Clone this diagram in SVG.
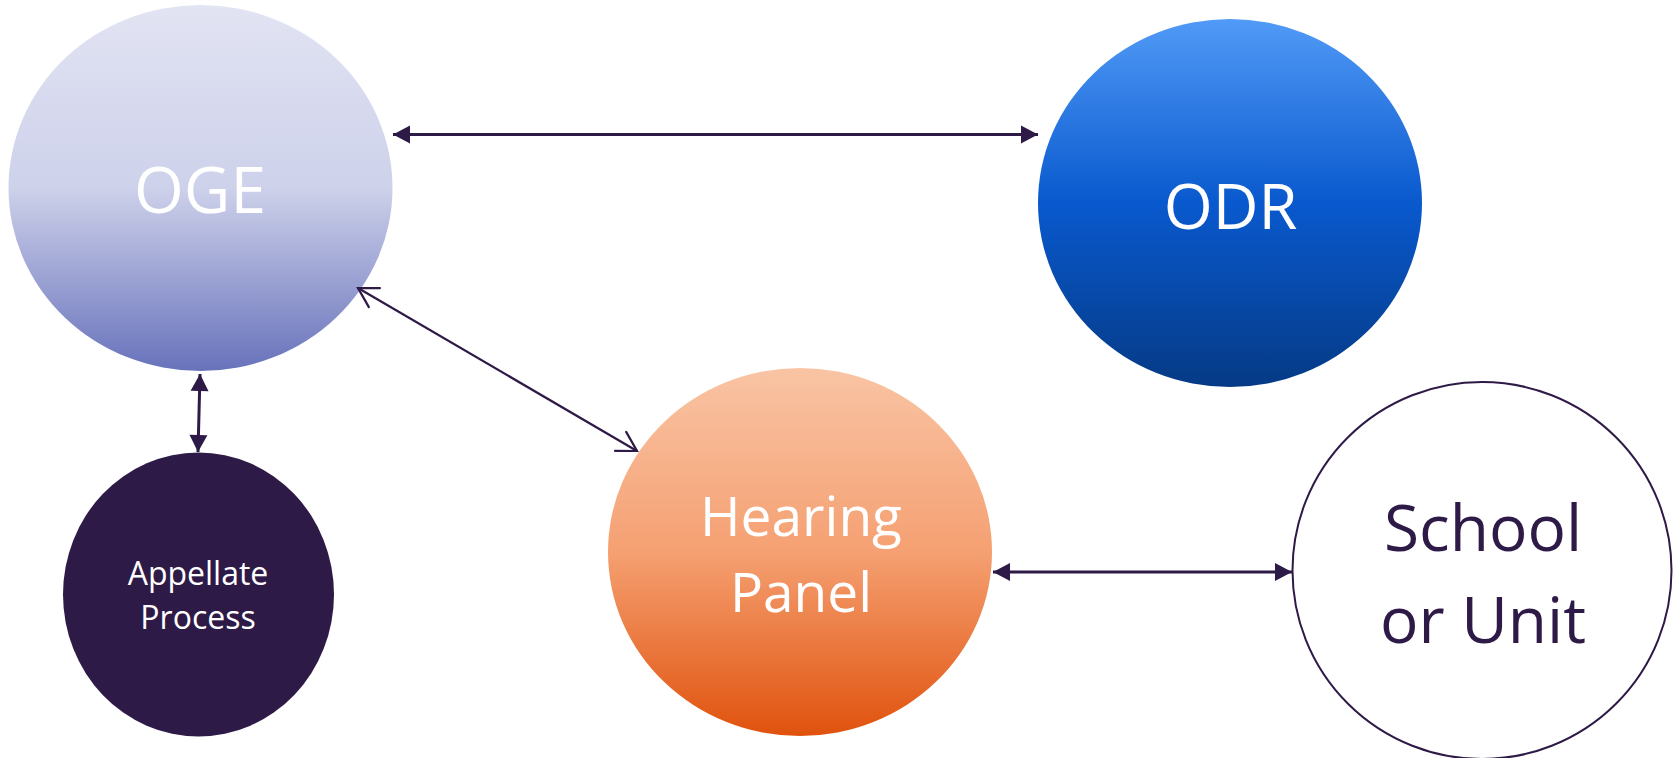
<svg xmlns="http://www.w3.org/2000/svg" width="1674" height="758" viewBox="0 0 1674 758">
  <defs>
    <linearGradient id="gOGE" x1="0" y1="0" x2="0" y2="1">
      <stop offset="0" stop-color="#E2E4F3"/>
      <stop offset="0.5" stop-color="#CDD1EA"/>
      <stop offset="1" stop-color="#6872BB"/>
    </linearGradient>
    <linearGradient id="gODR" x1="0" y1="0" x2="0" y2="1">
      <stop offset="0" stop-color="#519AF7"/>
      <stop offset="0.5" stop-color="#0959CE"/>
      <stop offset="1" stop-color="#053A85"/>
    </linearGradient>
    <linearGradient id="gHP" x1="0" y1="0" x2="0" y2="1">
      <stop offset="0" stop-color="#F9C4A4"/>
      <stop offset="0.5" stop-color="#F5A072"/>
      <stop offset="1" stop-color="#E0520D"/>
    </linearGradient>
    <marker id="tri" viewBox="-18 -10 19 20" refX="0" refY="0" markerWidth="19" markerHeight="20" markerUnits="userSpaceOnUse" orient="auto-start-reverse">
      <path d="M0,0 L-17,-9 L-17,9 Z" fill="#2E1A47"/>
    </marker>
    <marker id="open" viewBox="-22 -13 24 26" refX="0" refY="0" markerWidth="24" markerHeight="26" markerUnits="userSpaceOnUse" orient="auto-start-reverse">
      <path d="M-19,-11 L0,0 L-19,11" fill="none" stroke="#2E1A47" stroke-width="2.2" stroke-linecap="round" stroke-linejoin="miter"/>
    </marker>
  </defs>
  <style>
    .lbl { font-family: "Open Sans", "Liberation Sans", sans-serif; text-anchor: middle; }
    .w { fill: #FFFFFF; }
    .d { fill: #2E1A47; }
    .con { stroke: #2E1A47; fill: none; }
  </style>
  <rect width="1674" height="758" fill="#FFFFFF"/>

  <g id="oge">
    <ellipse cx="200.5" cy="188" rx="192" ry="183" fill="url(#gOGE)"/>
    <text class="lbl w" x="200" y="213" font-size="64">OGE</text>
  </g>
  <g id="odr">
    <ellipse cx="1230" cy="203" rx="192" ry="184" fill="url(#gODR)"/>
    <text class="lbl w" x="1230.5" y="229" font-size="63">ODR</text>
  </g>
  <g id="hearing">
    <ellipse cx="800" cy="552" rx="192" ry="184" fill="url(#gHP)"/>
    <text class="lbl w" x="801" y="536" font-size="55">Hearing</text>
    <text class="lbl w" x="801" y="612" font-size="55">Panel</text>
  </g>
  <g id="appellate">
    <ellipse cx="198.5" cy="594.5" rx="135.5" ry="142" fill="#2E1A47"/>
    <text class="lbl w" x="198" y="585" font-size="32">Appellate</text>
    <text class="lbl w" x="198" y="629" font-size="32">Process</text>
  </g>
  <g id="school">
    <ellipse cx="1482" cy="570.5" rx="189.5" ry="188.5" fill="#FFFFFF" stroke="#2E1A47" stroke-width="2"/>
    <text class="lbl d" x="1483" y="551" font-size="64">School</text>
    <text class="lbl d" x="1483" y="643" font-size="64">or Unit</text>
  </g>

  <g id="connectors" class="con">
    <line x1="393" y1="134.5" x2="1038" y2="134.5" stroke-width="3" marker-start="url(#tri)" marker-end="url(#tri)"/>
    <line x1="358" y1="288" x2="637" y2="451" stroke-width="2.2" marker-start="url(#open)" marker-end="url(#open)"/>
    <line x1="200" y1="374" x2="198" y2="452" stroke-width="3" marker-start="url(#tri)" marker-end="url(#tri)"/>
    <line x1="993" y1="572" x2="1292" y2="572" stroke-width="3" marker-start="url(#tri)" marker-end="url(#tri)"/>
  </g>
</svg>
